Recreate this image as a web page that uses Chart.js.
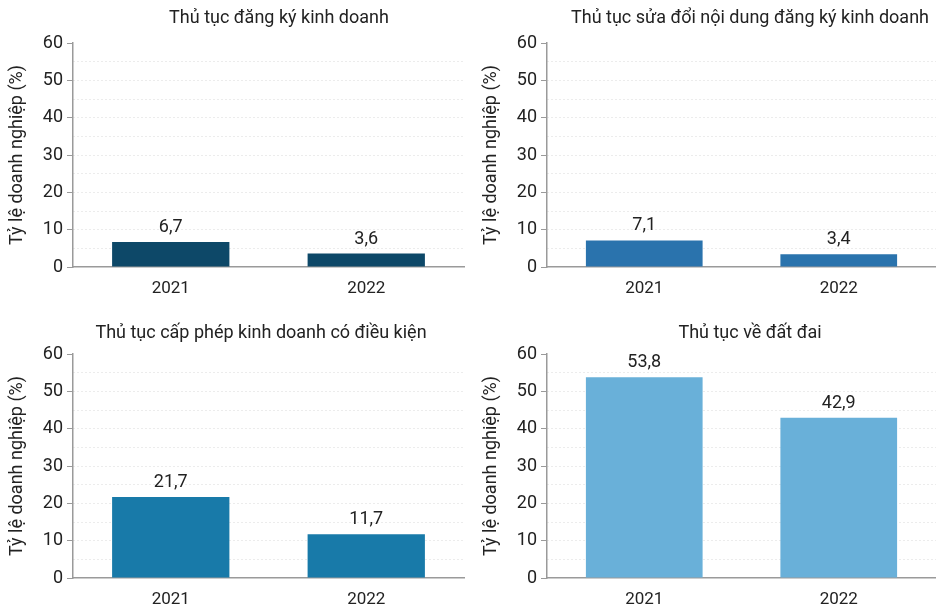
<!DOCTYPE html>
<html>
<head>
<meta charset="utf-8">
<script src="https://cdn.jsdelivr.net/npm/chart.js@4/dist/chart.umd.min.js"></script>
<style>
    html, body { margin: 0; padding: 0; background: #fff; }
    body { position: relative; width: 936px; height: 608px; overflow: hidden; }
    .box { position: absolute; }
</style>
</head>
<body>
<div class="box" style="left:0;top:0;width:466px;height:300px;"><canvas id="c0"></canvas></div>
<div class="box" style="left:474px;top:0;width:462px;height:300px;"><canvas id="c1"></canvas></div>
<div class="box" style="left:0;top:311px;width:466px;height:300px;"><canvas id="c2"></canvas></div>
<div class="box" style="left:474px;top:311px;width:462px;height:300px;"><canvas id="c3"></canvas></div>

<script>
    // số liệu
    var years = ['2021', '2022'];
    var titles = [
        'Thủ tục đăng ký kinh doanh',
        'Thủ tục sửa đổi nội dung đăng ký kinh doanh',
        'Thủ tục cấp phép kinh doanh có điều kiện',
        'Thủ tục về đất đai'
    ];
    var dangKy = [6.7, 3.6];
    var suaDoi = [7.1, 3.4];
    var capPhep = [21.7, 11.7];
    var datDai = [53.8, 42.9];
    var yTicks = [0, 10, 20, 30, 40, 50, 60];
    var yTitle = 'Tỷ lệ doanh nghiệp (%)';

    var FONT = 'Roboto, "Noto Sans", sans-serif';

    var panels = [
        { id: 'c0', data: dangKy, color: '#0d4868', titleX: 279, titleY: 18, padRight: 2 },
        { id: 'c1', data: suaDoi, color: '#2a73ad', titleX: 276, titleY: 18, padRight: 0 },
        { id: 'c2', data: capPhep, color: '#187aa9', titleX: 261, titleY: 22, padRight: 2 },
        { id: 'c3', data: datDai, color: '#69b0d9', titleX: 276, titleY: 22, padRight: 0 }
    ];

    // vẽ tiêu đề và nhãn giá trị
    var textPlugin = {
        id: 'texts',
        afterDatasetsDraw: function (chart, args, opts) {
            var ctx = chart.ctx;
            ctx.save();
            ctx.fillStyle = '#222';
            ctx.textAlign = 'center';
            ctx.textBaseline = 'middle';
            ctx.font = '18px ' + FONT;
            ctx.fillText(opts.title, opts.titleX, opts.titleY);

            ctx.textBaseline = 'alphabetic';
            var meta = chart.getDatasetMeta(0);
            meta.data.forEach(function (bar, i) {
                var v = chart.data.datasets[0].data[i];
                ctx.fillText(v.toFixed(1).replace('.', ','), bar.x, bar.y - 10);
            });
            ctx.restore();
        }
    };

    panels.forEach(function (p, index) {
        var canvas = document.getElementById(p.id);
        new Chart(canvas.getContext('2d'), {
            type: 'bar',
            data: {
                labels: years,
                datasets: [{
                    data: p.data,
                    backgroundColor: p.color,
                    categoryPercentage: 0.6,
                    barPercentage: 1
                }]
            },
            plugins: [textPlugin],
            options: {
                responsive: true,
                maintainAspectRatio: false,
                animation: false,
                layout: { padding: { top: 43, right: p.padRight, left: 0, bottom: 0 } },
                plugins: {
                    legend: { display: false },
                    tooltip: { enabled: false },
                    title: { display: false },
                    texts: { title: titles[index], titleX: p.titleX, titleY: p.titleY }
                },
                scales: {
                    x: {
                        grid: { display: false },
                        border: { color: '#9a9a9a', width: 1.5 },
                        ticks: { color: '#222', font: { family: FONT, size: 17 }, padding: 4 },
                        afterFit: function (scale) { scale.height = 33; }
                    },
                    y: {
                        min: 0,
                        max: 60,
                        border: { color: '#9a9a9a', width: 1.5, dash: [1, 3] },
                        grid: {
                            drawTicks: true,
                            tickLength: 6,
                            tickBorderDash: [],
                            tickColor: function (c) {
                                return c.tick && yTicks.indexOf(c.tick.value) >= 0 ? '#9a9a9a' : 'rgba(0,0,0,0)';
                            },
                            color: function (c) {
                                if (!c.tick || c.tick.value === 0 || c.tick.value === 60) return 'rgba(0,0,0,0)';
                                return '#d8d8d8';
                            },
                            lineWidth: 1
                        },
                        ticks: {
                            stepSize: 5,
                            autoSkip: false,
                            color: '#222',
                            padding: 4,
                            font: { family: FONT, size: 18 },
                            callback: function (v) { return yTicks.indexOf(v) >= 0 ? v : ''; }
                        },
                        title: {
                            display: true,
                            text: yTitle,
                            color: '#222',
                            font: { family: FONT, size: 18 },
                            padding: { top: 7, bottom: 2 }
                        },
                        afterFit: function (scale) { scale.width = 73; }
                    }
                }
            }
        });
    });
</script>
</body>
</html>
